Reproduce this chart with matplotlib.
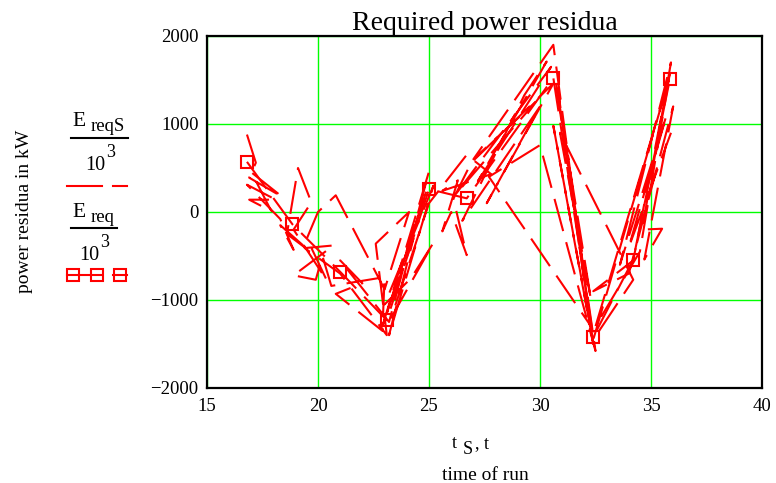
import matplotlib
matplotlib.use("Agg")
from matplotlib import pyplot as plt
from matplotlib.lines import Line2D

W, H = 776, 483
SERIF = "Liberation Serif"
RED = "#ff0000"
GREEN = "#00ff00"
DASH = (0, (16, 5.5))

# E_req / 10^3 (marked with squares)
t_req = [16.8, 18.85, 21.0, 23.1, 25.0, 26.7, 30.6, 32.4, 34.2, 35.85]
e_req = [570, -140, -680, -1230, 260, 155, 1525, -1420, -540, 1510]

# E_reqS / 10^3 (noisy simulated run)
t_reqS = [16.8, 17.2, 16.9, 18.4, 17.0, 17.9, 16.9, 18.1, 16.8, 18.3,
          18.9, 18.3, 19.6, 18.6, 19.1, 19.7, 18.9, 20.4, 19.5, 20.0,
          20.8, 23.0, 24.1, 22.6, 23.1, 21.0, 19.4, 20.7, 18.9, 19.9,
          20.2, 20.6, 23.0, 22.9, 20.8, 22.0, 21.0, 23.2, 25.0, 22.9,
          24.9, 23.1, 24.3, 23.2, 25.2, 23.0, 24.2, 25.2, 23.3, 25.0,
          26.7, 27.8, 25.6, 26.3, 25.6, 26.0, 26.7, 26.1, 26.9, 30.6,
          27.6, 30.0, 26.5, 29.3, 30.3, 27.2, 30.5, 26.2, 29.8, 27.0,
          30.6, 32.4, 30.6,
          32.3, 30.8, 32.5, 30.0, 27.7, 32.3, 30.7, 32.3, 30.9, 33.4,
          34.2, 32.4, 35.8, 32.5, 34.5, 35.9, 34.2, 32.4, 34.0, 36.0,
          34.7, 35.5, 34.6, 35.9, 33.6, 35.7, 34.0, 35.9]
e_reqS = [880, 560, 390, 170, 450, 10, 140, 140, 310, -80,
          -430, -150, -440, -250, 500, 110, -200, -780, -300, 0,
          190, -880, 0, -360, -1400, -700, -410, -380, -720, -770,
          -500, -840, -740, -1350, -930, -810, -550, -1250, 460, -1300,
          250, -1150, -300, -1400, 300, -1050, -750, -350, -1200, 100,
          650, 430, 240, 360, -220, 0, -490, 150, 560, 1460,
          100, 1200, -100, 1330, 1710, 350, 1650, 200, 1250, 600,
          1900, -1500, 980,
          -1350, 1400, -1580, 760, 400, -1300, 1500, -1000, 900, -360,
          -770, -1450, 1500, -1300, -450, 1650, -550, -900, -700, 1200,
          -540, -190, -200, 1700, -600, 1100, -400, 900]

x_ticks = [15, 20, 25, 30, 35, 40]
y_ticks = [-2000, -1000, 0, 1000, 2000]
y_labels = ["\u22122000", "\u22121000", "0", "1000", "2000"]

fig = plt.figure(figsize=(W / 100, H / 100), dpi=100)
ax = fig.add_axes([207 / W, 1 - 388 / H, (762 - 207) / W, (388 - 36) / H])

ax.plot(t_reqS, e_reqS, color=RED, lw=1.5, linestyle=DASH, zorder=3)
ax.plot(t_req, e_req, color=RED, lw=1.5, linestyle=DASH, marker="s",
        markersize=9, mfc="none", mec=RED, mew=1.5, zorder=4)

ax.set_xlim(15, 40)
ax.set_ylim(-2000, 2000)
ax.set_xticks(x_ticks)
ax.set_yticks(y_ticks)
ax.set_yticklabels(y_labels)
ax.grid(True, color=GREEN, lw=1)
ax.set_axisbelow(True)
ax.tick_params(length=0, labelsize=13.5)
ax.tick_params(axis="y", pad=6)
ax.tick_params(axis="x", pad=7)
for lab in ax.get_xticklabels() + ax.get_yticklabels():
    lab.set_fontfamily(SERIF)
for s in ax.spines.values():
    s.set_linewidth(1.6)
    s.set_color("black")

ax.set_title("Required power residua", fontsize=20, family=SERIF, pad=3)


def px(x, y):
    return x / W, 1 - y / H


def txt(x, y, s, size, **kw):
    fig.text(*px(x, y), s, fontsize=size, family=SERIF, va="baseline", **kw)


# axis labels
fig.text(*px(25, 211), "power residua in kW", fontsize=14, family=SERIF,
         rotation=90, ha="center", va="center")
txt(452, 448, "t", 13)
txt(463, 454, "S", 13)
txt(475, 448, ", t", 13)
txt(485, 480, "time of run", 14, ha="center")

# legend block 1
txt(72, 126, "E", 15.5)
txt(91, 131, "reqS", 13.5)
fig.add_artist(Line2D([71 / W, 128 / W], [1 - 138 / H] * 2, color="black", lw=1.5))
txt(85, 170, "10", 14.5)
txt(106, 157, "3", 13)
fig.add_artist(Line2D([67 / W, 102 / W], [1 - 186 / H] * 2, color=RED, lw=1.5))
fig.add_artist(Line2D([113 / W, 127 / W], [1 - 186 / H] * 2, color=RED, lw=1.5))

# legend block 2
txt(72, 217, "E", 15.5)
txt(91, 222, "req", 13.5)
fig.add_artist(Line2D([71 / W, 117 / W], [1 - 228 / H] * 2, color="black", lw=1.5))
txt(79, 260, "10", 14.5)
txt(100, 247, "3", 13)
fig.add_artist(Line2D([67 / W, 102 / W], [1 - 275 / H] * 2, color=RED, lw=1.5))
fig.add_artist(Line2D([113 / W, 127 / W], [1 - 275 / H] * 2, color=RED, lw=1.5))
fig.add_artist(Line2D([73 / W, 97 / W, 120 / W], [1 - 275 / H] * 3, color=RED,
                      lw=0, marker="s", markersize=9, mfc="none", mec=RED, mew=1.5))

fig.savefig("out.png", dpi=100)
